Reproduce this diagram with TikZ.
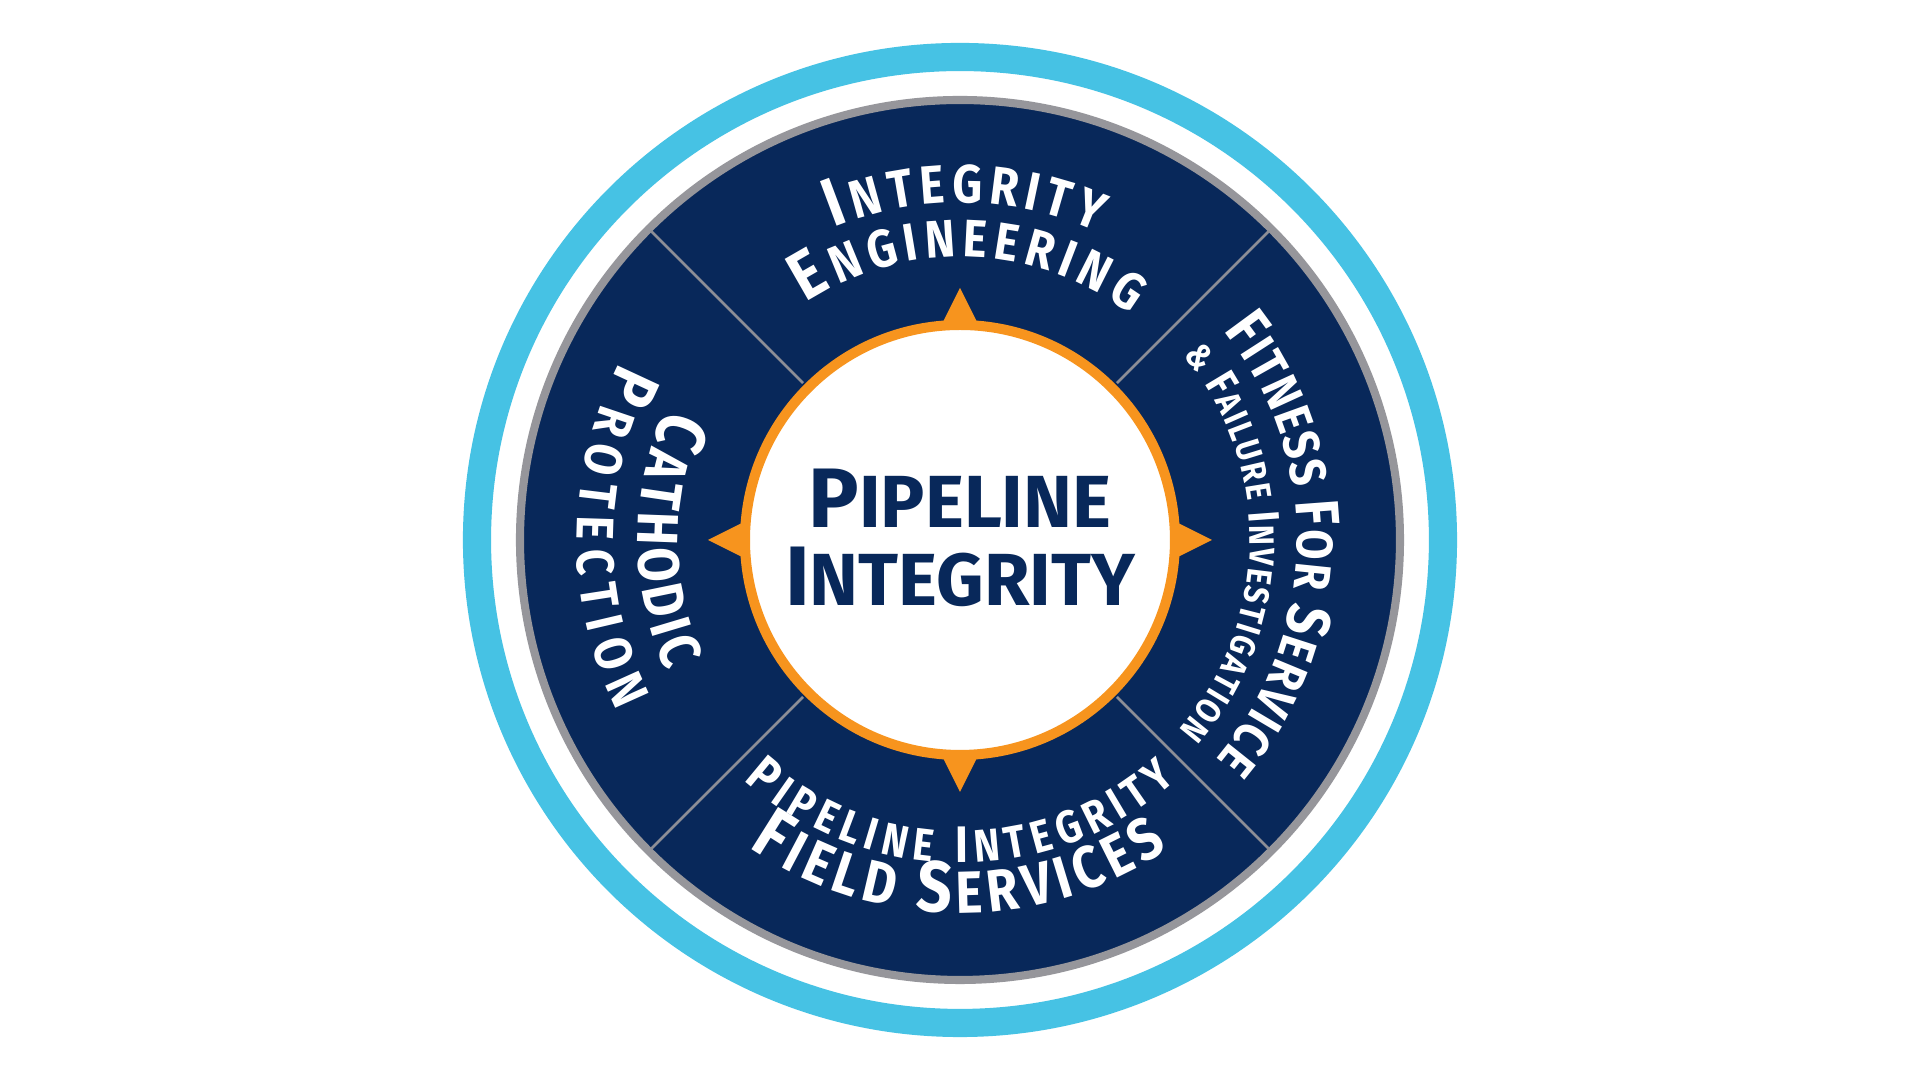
\documentclass[tikz,border=0pt]{standalone}
\usepackage{fontspec}
\setmainfont{Fira Sans}
\newfontfamily\arcfont{Fira Sans}[FakeStretch=0.86]
\usetikzlibrary{decorations.text}
\definecolor{navy}{RGB}{8,40,90}
\definecolor{lblue}{RGB}{70,194,228}
\definecolor{orng}{RGB}{247,148,30}
\definecolor{rimgray}{RGB}{150,150,155}
\definecolor{divgray}{RGB}{140,142,150}
\newcommand\afs[1]{\arcfont\bfseries\fontsize{#1}{#1}\selectfont}
\newcommand\cfs[1]{\bfseries\fontsize{#1}{#1}\selectfont}
\begin{document}
\begin{tikzpicture}[x=0.01cm,y=0.01cm,
  arctext/.style={decorate, decoration={text along path, text color=white, text align=fit to path, text={#1}}},
  centertext/.style={text=navy, anchor=base, inner sep=0pt}]
\fill[white] (-960,-540) rectangle (960,540);
% outer rings
\draw[lblue, line width=8pt] (0,0) circle[radius=483];
\fill[navy] (0,0) circle[radius=440];
\draw[rimgray, line width=2.3pt] (0,0) circle[radius=440];
% dividers
\foreach \a in {45,135,225,315} \draw[divgray, line width=0.75pt] (\a:222) -- (\a:437);
% orange pointers
\foreach \a in {0,90,180,270} \fill[orng, rotate=\a] (252,0) -- (212,20) -- (212,-20) -- cycle;
% inner circle
\draw[orng, line width=2.85pt, fill=white] (0,0) circle[radius=215];
% center text
\node[centertext] (pl) at (0,12) {\cfs{24}P\cfs{21}IPELINE};
\node[centertext] (pi) at (0,-66) {\cfs{24}I\cfs{21}NTEGRITY};
% top
\path[arctext={|\afs{19.5}|I|\afs{15.3}|NTEGRITY}] (112:337) arc[start angle=112, end angle=66, radius=337];
\path[arctext={|\afs{19.5}|E|\afs{15}|NGINEERING}] (123:283) arc[start angle=123, end angle=53, radius=283];
% right
\path[arctext={|\afs{17.5}|F|\afs{14.5}|ITNESS |\afs{17.5}|F|\afs{14.5}|OR |\afs{17.5}|S|\afs{14.5}|ERVICE}] (38.5:337) arc[start angle=38.5, end angle=-40.5, radius=337];
\path[arctext={|\afs{10}|{\&} |\afs{12.5}|F|\afs{10}|AILURE |\afs{12.5}|I|\afs{10}|NVESTIGATION}] (39.5:290) arc[start angle=39.5, end angle=-41, radius=290];
% bottom
\path[arctext={|\afs{14.6}|P|\afs{13}|IPELINE |\afs{14.6}|I|\afs{13}|NTEGRITY}] (228:323) arc[start angle=228, end angle=312, radius=323];
\path[arctext={|\afs{20.5}|F|\afs{16.9}|IELD |\afs{20.5}|S|\afs{16.9}|ERVICES}] (235.5:373) arc[start angle=235.5, end angle=304, radius=373];
% left
\path[arctext={|\afs{20}|C|\afs{16.5}|ATHODIC}] (156:322) arc[start angle=156, end angle=204, radius=322];
\path[arctext={|\afs{19}|P|\afs{15}|ROTECTION}] (152.5:383) arc[start angle=152.5, end angle=206.5, radius=383];
\end{tikzpicture}
\end{document}
